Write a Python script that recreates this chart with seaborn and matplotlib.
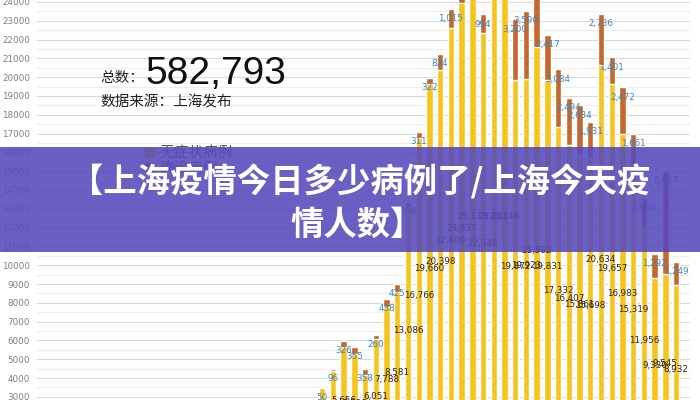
import matplotlib
matplotlib.use("Agg")
import matplotlib.pyplot as plt
from matplotlib.patches import Rectangle, Patch
import seaborn as sns

# daily new cases, Shanghai (3/27 - 4/29); earlier days are below the visible range
dates = ["3/27", "3/28", "3/29", "3/30", "3/31", "4/1", "4/2", "4/3", "4/4", "4/5",
         "4/6", "4/7", "4/8", "4/9", "4/10", "4/11", "4/12", "4/13", "4/14", "4/15",
         "4/16", "4/17", "4/18", "4/19", "4/20", "4/21", "4/22", "4/23", "4/24", "4/25",
         "4/26", "4/27", "4/28", "4/29"]
asymptomatic = [3450, 4381, 5656, 5298, 4144, 6051, 7788, 8581, 13086, 16766,
                19660, 20398, 22609, 23937, 25173, 22348, 25141, 25146, 19872, 19923,
                21582, 19831, 17332, 16407, 15861, 15698, 20634, 19657, 16983, 15319,
                11956, 9330, 9545, 8932]
confirmed = [50, 96, 326, 355, 358, 260, 438, 425, 268, 311,
             322, 824, 1015, 1006, 914, 994, 1189, 2573, 3200, 3590,
             3238, 2417, 3084, 2494, 2634, 1931, 2736, 1401, 2472, 1661,
             1606, 1292, 5487, 1249]
total_text = "582,793"

sns.set_style("white")
plt.rcParams['font.family'] = ['Noto Sans CJK SC', 'DejaVu Sans']

YELLOW = "#F7C41F"
BROWN = "#C4682B"

totals = [a + c for a, c in zip(asymptomatic, confirmed)]

fig = plt.figure(figsize=(7, 4), dpi=100)
ax = fig.add_axes([37 / 700, 0, 653 / 700, 1])

# stacked bars: full height in brown, asymptomatic part in yellow over it
sns.barplot(x=dates, y=totals, color=BROWN, width=0.6, saturation=1, ax=ax, zorder=2)
sns.barplot(x=dates, y=asymptomatic, color=YELLOW, width=0.6, saturation=1, ax=ax, zorder=3)

for i, (a, c, t) in enumerate(zip(asymptomatic, confirmed, totals)):
    ax.text(i, a / 2, f"{a:,}", ha="center", va="center", fontsize=6.3,
            color="#262626", zorder=4, clip_on=True, family="DejaVu Sans")
    ax.annotate(f"{c:,}", (i, t), xytext=(0, -7), textcoords="offset points",
                ha="center", va="center", fontsize=6.3, color="#3E84C0",
                zorder=4, annotation_clip=True, family="DejaVu Sans")

ax.set_xlim(-26.6, 34.3)
ax.set_ylim(2830, 24106)
ax.set_yticks(range(3000, 24001, 1000))
ax.set_yticks(range(3500, 24001, 1000), minor=True)
ax.yaxis.grid(True, which="major", color="#d9d9d9", lw=0.8, zorder=0)
ax.yaxis.grid(True, which="minor", color="#eeeeee", lw=0.8, zorder=0)
ax.tick_params(axis="y", which="both", length=0, labelsize=6.3, labelcolor="#7f7f7f", pad=5)
ax.set_axisbelow(True)
ax.set_xticks([])
ax.set_xlabel("")
ax.set_ylabel("")
for sp in ax.spines.values():
    sp.set_visible(False)
for lab in ax.get_yticklabels():
    lab.set_family("DejaVu Sans")

# summary text
fig.text(100 / 700, 1 - 78 / 400, "总数：", fontsize=10.5, color="#222222", va="center")
fig.text(145 / 700, 1 - 84 / 400, total_text, fontsize=28, color="#111111",
         family="Liberation Sans", va="baseline")
fig.text(100 / 700, 1 - 102 / 400, "数据来源：上海发布", fontsize=10.5, color="#222222", va="center")

handles = [Patch(color=YELLOW, label="无症状病例"), Patch(color=BROWN, label="确诊病例")]
fig.legend(handles=handles, loc="upper left", bbox_to_anchor=(138 / 700, 1 - 139 / 400),
           frameon=False, fontsize=10.5, labelcolor="#595959", handlelength=0.6,
           handleheight=0.6, handletextpad=0.4, labelspacing=0.1, borderpad=0)

# title banner
fig.patches.append(Rectangle((0, 1 - 252 / 400), 1, 105 / 400, transform=fig.transFigure,
                             facecolor="#5549BB", alpha=0.88, edgecolor="none", zorder=10))
fig.text(0.514, 1 - 182 / 400, "【上海疫情今日多少病例了/上海今天疫", fontsize=24,
         fontweight="bold", color="white", ha="center", va="center", zorder=11)
fig.text(0.51, 1 - 225 / 400, "情人数】", fontsize=24,
         fontweight="bold", color="white", ha="center", va="center", zorder=11)

fig.savefig("out.png", dpi=100)
